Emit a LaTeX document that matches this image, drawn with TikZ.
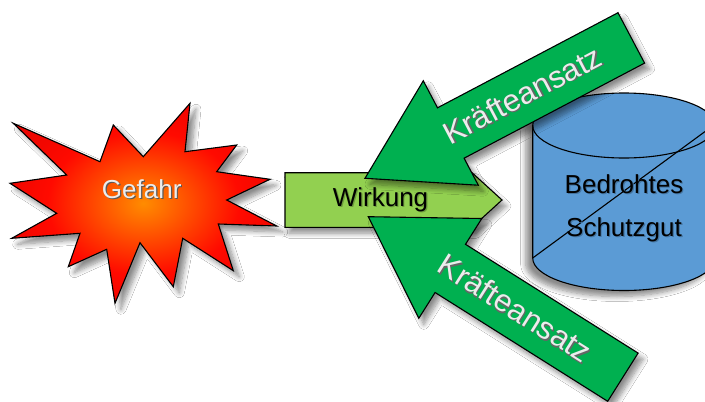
\documentclass[tikz,border=0pt]{standalone}
\usepackage{fontspec}
\setmainfont{Liberation Sans}
\usetikzlibrary{shadows.blur}

\definecolor{forcegreen}{RGB}{0,176,80}
\definecolor{effectgreen}{RGB}{146,208,80}
\definecolor{assetblue}{RGB}{91,155,213}
\definecolor{hazardcore}{RGB}{255,140,0}
\definecolor{hazardred}{RGB}{255,10,0}
\definecolor{hazardrim}{RGB}{215,0,0}
\definecolor{labelwhite}{RGB}{236,236,236}

% orange core fading to a deep red rim
\pgfdeclareradialshading{hazardglow}{\pgfpoint{0bp}{0bp}}{%
  color(0bp)=(hazardcore); color(18bp)=(hazardred); color(38bp)=(hazardrim); color(50bp)=(hazardrim)}

% text with a small offset shadow: #1 shadow colour, #2 text
\newcommand{\castlabel}[2]{\leavevmode\rlap{\kern1.2pt\raisebox{-1.2pt}{\textcolor{#1}{#2}}}#2}

\tikzset{
  outline/.style={draw=black, line width=1.1pt, line join=miter},
  softshadow/.style={blur shadow={shadow xshift=#1, shadow yshift=-6pt,
      shadow blur radius=5pt, shadow blur steps=8, shadow opacity=45}},
  softshadow/.default=6pt,
  hazardstar/.style={outline, shading=hazardglow, softshadow},
  effectbox/.style={outline, fill=effectgreen, softshadow=4pt},
  assetdrum/.style={outline, fill=assetblue, softshadow=-7pt},
  forcebody/.style={outline, fill=forcegreen, softshadow=5pt},
  bigtext/.style={inner sep=0pt, font=\fontsize{26}{31}\selectfont},
  forcetext/.style={inner sep=0pt, text=labelwhite, font=\fontsize{31}{37}\selectfont},
}

\begin{document}
\begin{tikzpicture}[x=1pt, y=-1pt]
  \useasboundingbox (0,0) rectangle (705,402);
  \clip (0,0) rectangle (705,402);
  \fill[white] (0,0) rectangle (705,402);

  % the hazard: a spiky explosion shape
  \path[hazardstar]
    (13.3,123.3) -- (100,161.7) -- (113.3,125) -- (143.3,156.7) -- (190,103.3)
    -- (185,151.7) -- (236.7,145) -- (216.7,171.7) -- (270,179.3) -- (226.7,200)
    -- (276.7,226) -- (218.3,224) -- (233.3,270.7) -- (182.7,238.3) -- (173.3,286.7)
    -- (140,242.7) -- (115,303.3) -- (106.7,249.3) -- (68.3,266.7) -- (80,233.3)
    -- (11.7,238.3) -- (56.7,213.3) -- (10,183.3) -- (66.7,175) -- cycle;

  % the effect: a pointed box heading for the asset
  \path[effectbox] (285,172.7) -- (472,172.7) -- (502,200) -- (472,227.3)
    -- (285,227.3) -- cycle;

  % the threatened asset: an upright drum
  \path[assetdrum] (532.7,125.5) -- (532.7,258)
    arc[start angle=180, end angle=360, x radius=91.3pt, y radius=32.5pt]
    -- (715.3,125.5)
    arc[start angle=0, end angle=180, x radius=91.3pt, y radius=32.5pt] -- cycle;
  \draw[outline] (532.7,125.5)
    arc[start angle=180, end angle=360, x radius=91.3pt, y radius=32.5pt];
  \draw[outline] (532.7,258) -- (715.3,124);

  % the two counter forces
  \path[forcebody] (365,178.3) -- (478.3,185.2) -- (464.1,158.2) -- (644.6,63.1)
    -- (618.0,12.7) -- (437.5,107.8) -- (423.3,80.8) -- cycle;
  \path[forcebody] (368.3,216.7) -- (481.8,218.5) -- (465.5,244.3) -- (638.1,353.1)
    -- (607.7,401.3) -- (435.1,292.5) -- (418.8,318.3) -- cycle;

  % labels
  \node[bigtext, text=labelwhite, anchor=base] (hazard) at (141.7,198.3)
    {\castlabel{black!65}{Gefahr}};
  \node[bigtext, anchor=base] (effect) at (380.5,206)
    {\castlabel{effectgreen!75!black}{Wirkung}};
  \node[bigtext, anchor=base] (assettop) at (624,193.3)
    {\castlabel{assetblue!75!black}{Bedrohtes}};
  \node[bigtext, anchor=base] (assetbottom) at (624,236.7)
    {\castlabel{assetblue!75!black}{Schutzgut}};
  \node[forcetext, rotate=27.8] (forceupper) at (522.5,95.2)
    {\castlabel{black!60}{Kräfteansatz}};
  \node[forcetext, rotate=-32.2] (forcelower) at (515,308.5)
    {\castlabel{black!60}{Kräfteansatz}};
\end{tikzpicture}
\end{document}
